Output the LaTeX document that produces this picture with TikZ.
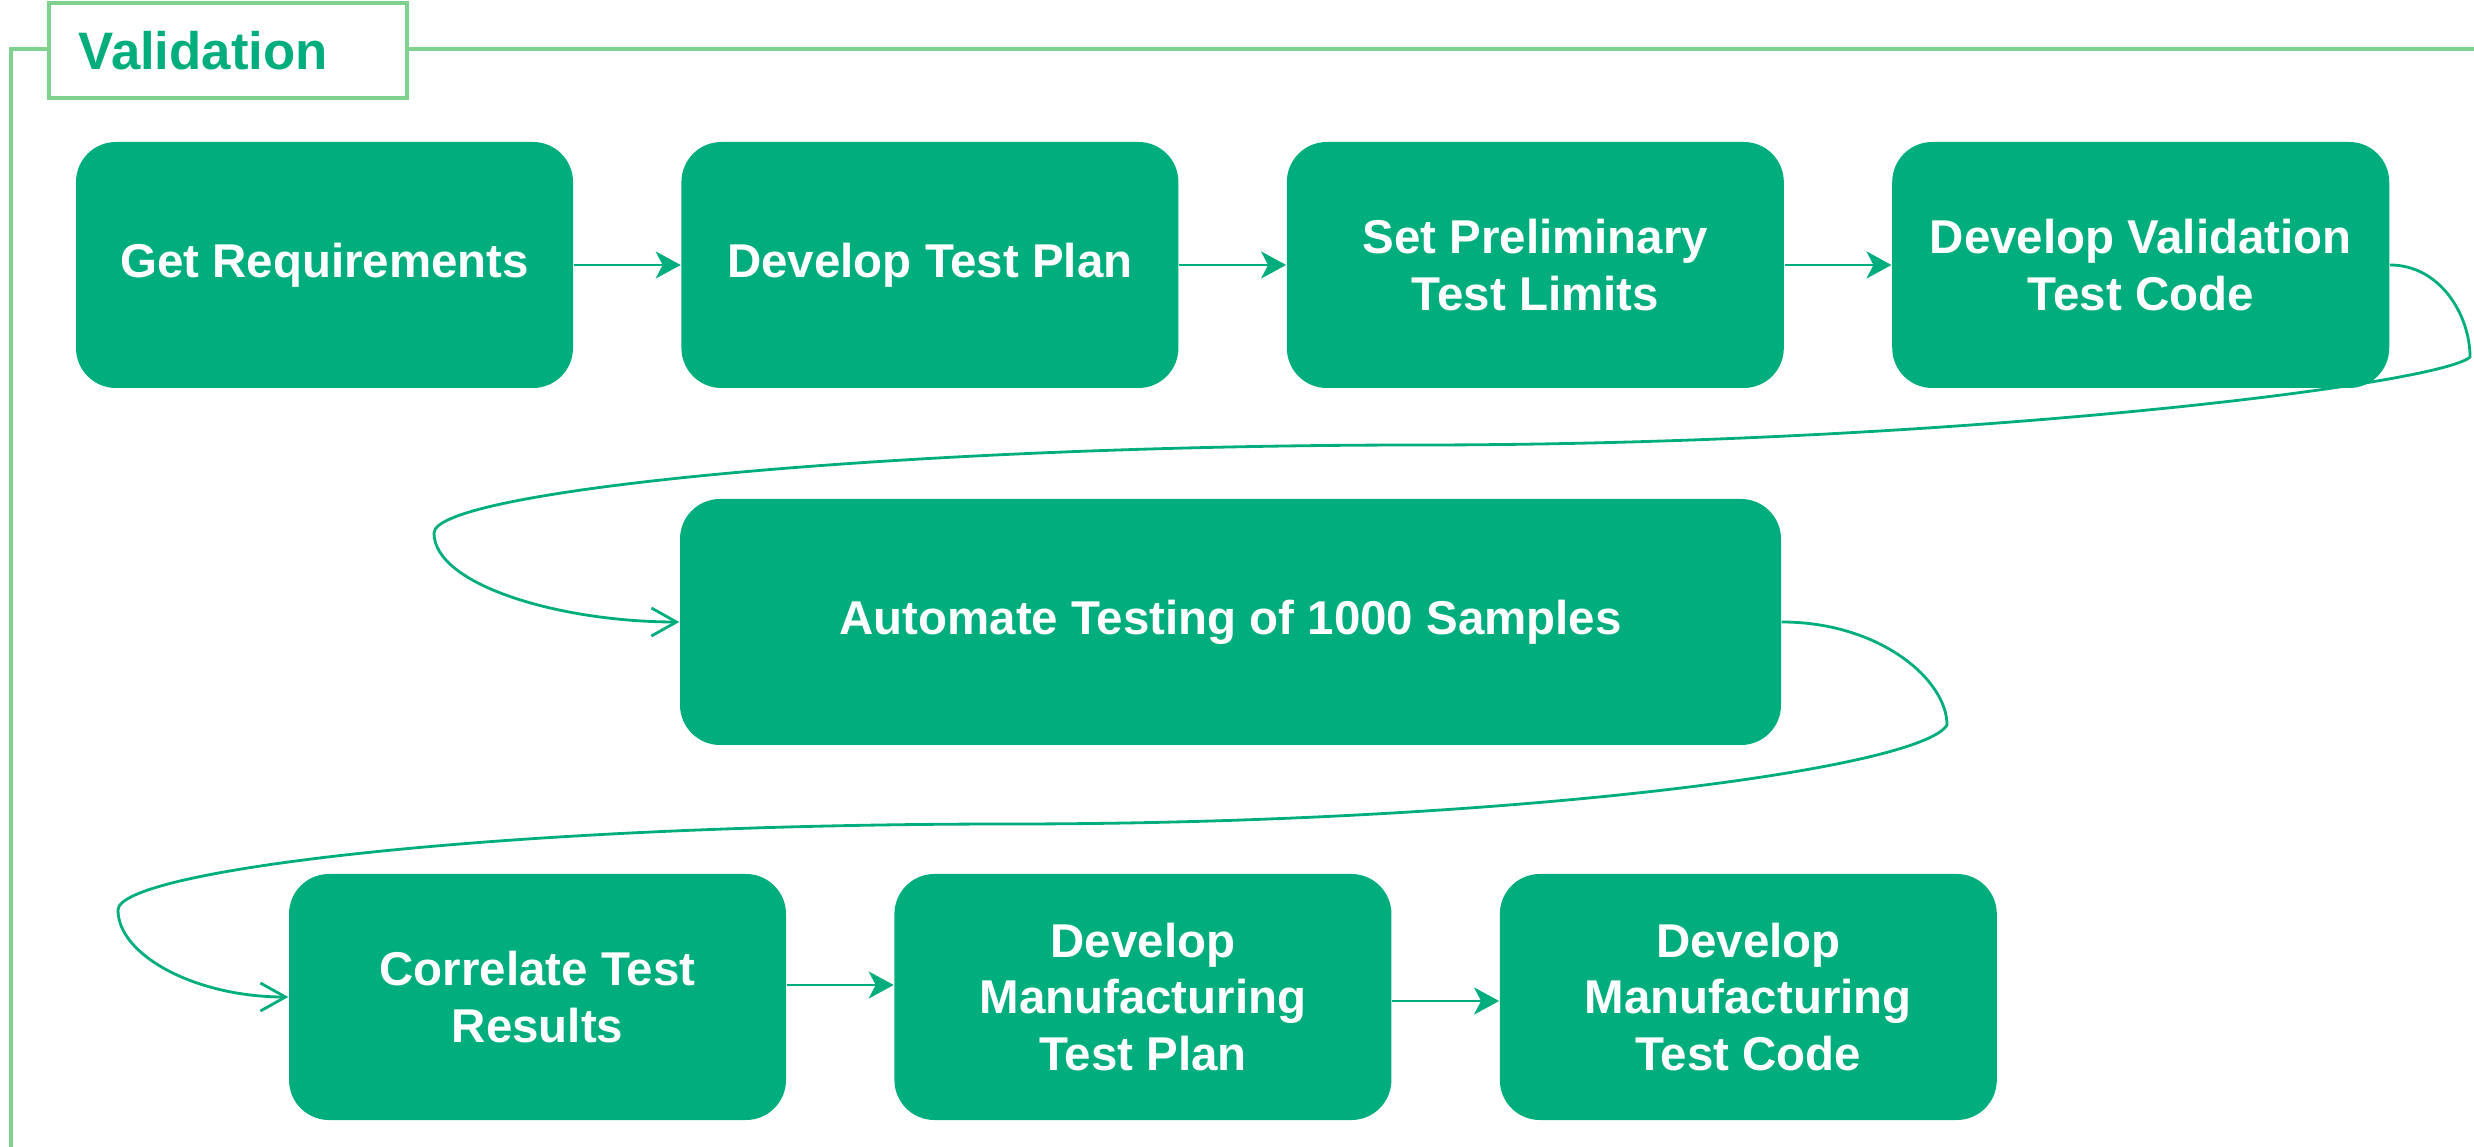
\documentclass[tikz,border=0pt]{standalone}
\usepackage{fontspec}
\setmainfont{Liberation Sans}
\usetikzlibrary{positioning,arrows.meta}
\definecolor{valgreen}{HTML}{00AD7C}
\definecolor{framegreen}{HTML}{80D08F}
\tikzset{
	procbox/.style={fill=valgreen, draw=none, rounded corners=0.4cm, minimum width=4.97cm, minimum height=2.46cm, inner sep=0pt, text=white, align=center, font=\fontsize{13.5}{16.2}\selectfont\bfseries},
	titlebox/.style={draw=framegreen, line width=1pt, fill=white, minimum height=0.95cm, text width=2.98cm, inner xsep=0.3cm, align=left, text=valgreen, font=\fontsize{15}{18}\selectfont\bfseries},
	frameline/.style={draw=framegreen, line width=1.1pt},
	flow/.style={draw=valgreen, line width=0.8pt, -{Stealth[length=0.25cm,width=0.27cm,inset=0.07cm]}},
	loopflow/.style={draw=valgreen, line width=0.8pt, -{Straight Barb[length=0.25cm,width=0.28cm]}}
}

\begin{document}
\begin{tikzpicture}
		%%%%% START %%%%%
		\useasboundingbox (0,0) rectangle (24.74,-11.47);
		
		% frame with title
		\node[titlebox, anchor=west] (title) at (0.47,-0.505) {Validation};
		\draw[frameline] (0.11,-11.47) -- (0.11,-0.49) -- (title.west |- 0,-0.49);
		\draw[frameline] (title.east |- 0,-0.49) -- (24.74,-0.49);
		
		% first row
		\node[procbox] (req) at (3.245,-2.65) {Get Requirements};
		\node[procbox, right=1.07cm of req] (plan) {Develop Test Plan};
		\node[procbox, right=1.07cm of plan] (limits) {Set Preliminary\\Test Limits};
		\node[procbox, right=1.07cm of limits] (valcode) {Develop Validation\\Test Code};
		
		% second row
		\node[procbox, minimum width=11.01cm] (auto) at (12.305,-6.22) {Automate Testing of 1000 Samples};
		
		% third row
		\node[procbox] (corr) at (5.375,-9.97) {Correlate Test\\Results};
		\node[procbox, right=1.07cm of corr] (mfgplan) {Develop\\Manufacturing\\Test Plan};
		\node[procbox, right=1.07cm of mfgplan] (mfgcode) {Develop\\Manufacturing\\Test Code};
		
		% straight arrows
		\draw[flow] (req) -- (plan);
		\draw[flow] (plan) -- (limits);
		\draw[flow] (limits) -- (valcode);
		\draw[flow] ([yshift=0.12cm]corr.east) -- ([yshift=0.12cm]corr.east -| mfgplan.west);
		\draw[flow] ([yshift=-0.04cm]mfgplan.east) -- ([yshift=-0.04cm]mfgplan.east -| mfgcode.west);
		
		% curved arrows between rows
		\draw[loopflow] (valcode.east) .. controls (24.40,-2.65) and (24.70,-3.15) .. (24.70,-3.57)
			.. controls (24.40,-3.85) and (19.50,-4.45) .. (14.20,-4.45)
			.. controls (9.00,-4.45) and (4.34,-4.90) .. (4.34,-5.33)
			.. controls (4.34,-5.85) and (5.60,-6.22) .. (auto.west);
		\draw[loopflow] (auto.east) .. controls (18.80,-6.22) and (19.47,-6.80) .. (19.47,-7.25)
			.. controls (19.20,-7.70) and (15.00,-8.24) .. (10.10,-8.24)
			.. controls (5.00,-8.24) and (1.18,-8.70) .. (1.18,-9.10)
			.. controls (1.18,-9.55) and (1.95,-9.97) .. (corr.west);
		
		%%%%% END %%%%%
\end{tikzpicture}
\end{document}
